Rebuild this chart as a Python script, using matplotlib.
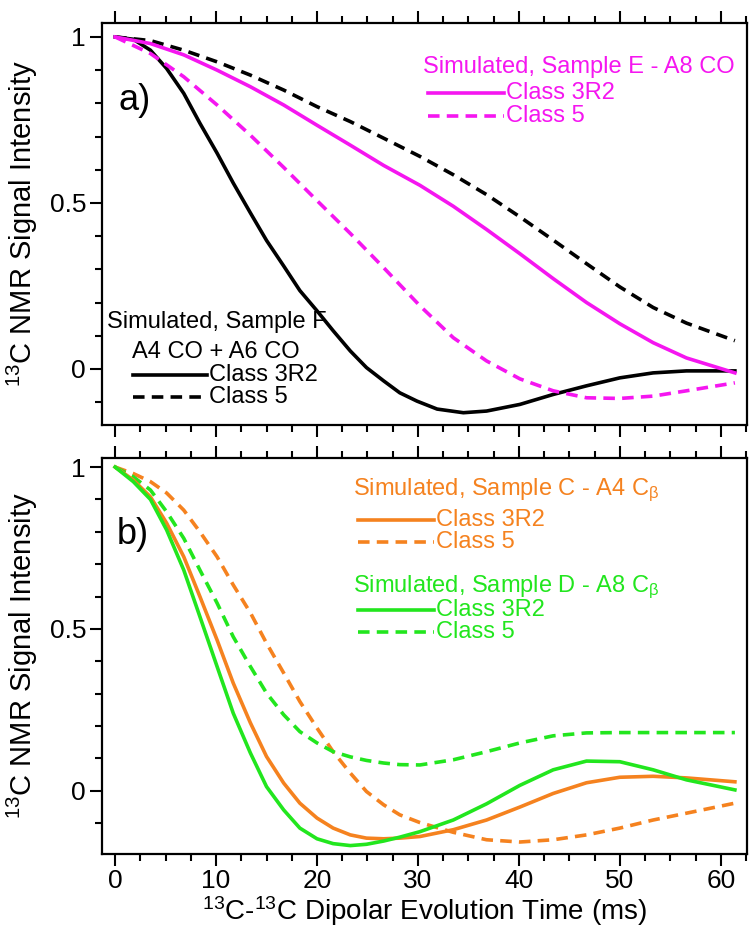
import matplotlib
matplotlib.use("Agg")
import matplotlib.pyplot as plt
from matplotlib import font_manager
from matplotlib.lines import Line2D
from matplotlib.ticker import MultipleLocator

# --- fuente: Arial Narrow si existe (Liberation Sans Narrow) ---
names = {f.name for f in font_manager.fontManager.ttflist}
FONT = 'Liberation Sans Narrow' if 'Liberation Sans Narrow' in names else 'Liberation Sans'
plt.rcParams['font.family'] = [FONT, 'DejaVu Sans']
plt.rcParams['mathtext.fontset'] = 'custom'
plt.rcParams['mathtext.rm'] = FONT
plt.rcParams['mathtext.it'] = FONT
plt.rcParams['mathtext.default'] = 'regular'

MAGENTA = '#F516F0'
ORANGE = '#F5821F'
GREEN = '#22E61E'

# --- panel a) ---
t_fine = [0, 1.8, 3.5, 5.1, 6.8, 8.4, 10.1, 11.7, 13.4, 15.0, 16.7, 18.3, 20.0, 21.6,
          23.3, 24.9, 26.6, 28.2, 29.9, 31.9, 34.5, 36.8, 40.1, 43.4, 46.7, 50.0,
          53.3, 56.6, 61.4]
f_3r2 = [1.0, 0.993, 0.96, 0.905, 0.83, 0.74, 0.65, 0.56, 0.47, 0.387, 0.31, 0.236,
         0.175, 0.115, 0.054, 0.004, -0.036, -0.072, -0.097, -0.121, -0.132, -0.127,
         -0.107, -0.077, -0.051, -0.027, -0.012, -0.006, -0.006]

t_a = [0, 3.5, 6.8, 10.1, 13.4, 16.7, 20.0, 23.3, 26.6, 30.2, 33.5, 36.8, 40.1,
       43.4, 46.7, 50.0, 53.3, 56.6, 61.4]
f_c5 = [1.0, 0.989, 0.96, 0.925, 0.885, 0.84, 0.79, 0.745, 0.695, 0.64, 0.585, 0.525,
        0.458, 0.388, 0.317, 0.247, 0.185, 0.138, 0.085]
e_3r2 = [1.0, 0.98, 0.946, 0.90, 0.85, 0.795, 0.734, 0.674, 0.613, 0.553, 0.49, 0.42,
         0.347, 0.272, 0.2, 0.136, 0.079, 0.033, -0.012]
e_c5 = [1.0, 0.95, 0.88, 0.795, 0.704, 0.607, 0.507, 0.408, 0.305, 0.19, 0.094,
        0.024, -0.03, -0.066, -0.087, -0.089, -0.082, -0.066, -0.042]

# --- panel b) ---
t_b = [0, 1.8, 3.5, 5.1, 6.8, 8.4, 10.1, 11.7, 13.4, 15.0, 16.7, 18.3, 20.0, 21.6,
       23.3, 24.9, 26.6, 28.2, 30.2, 33.5, 36.8, 40.1, 43.4, 46.7, 50.0, 53.3, 56.6, 61.4]
c_3r2 = [1.0, 0.96, 0.908, 0.827, 0.723, 0.60, 0.466, 0.333, 0.21, 0.106, 0.024,
         -0.038, -0.084, -0.115, -0.136, -0.146, -0.148, -0.146, -0.141, -0.12, -0.09,
         -0.05, -0.008, 0.025, 0.042, 0.045, 0.04, 0.028]
c_c5 = [1.0, 0.98, 0.955, 0.92, 0.867, 0.80, 0.723, 0.636, 0.55, 0.456, 0.364, 0.276,
        0.194, 0.121, 0.055, -0.002, -0.043, -0.074, -0.098, -0.128, -0.151, -0.158,
        -0.151, -0.136, -0.115, -0.09, -0.069, -0.038]
d_3r2 = [1.0, 0.955, 0.90, 0.806, 0.682, 0.538, 0.384, 0.24, 0.117, 0.013, -0.059,
         -0.115, -0.148, -0.163, -0.169, -0.165, -0.155, -0.143, -0.126, -0.09, -0.04,
         0.017, 0.065, 0.092, 0.09, 0.065, 0.034, 0.003]
d_c5 = [1.0, 0.97, 0.929, 0.862, 0.78, 0.682, 0.58, 0.476, 0.384, 0.302, 0.235, 0.183,
        0.148, 0.121, 0.105, 0.094, 0.086, 0.081, 0.08, 0.096, 0.121, 0.148, 0.17,
        0.179, 0.18, 0.18, 0.18, 0.18]

W, H = 749, 931
LW = 2.6
DASH = (3.2, 2.0)
YLABEL = '$^{13}$C NMR Signal Intensity'
FS_TICK = 19
FS_LEG = 17

fig = plt.figure(figsize=(W / 100, H / 100), dpi=100)


def px_axes(left, top, right, bottom):
    return fig.add_axes([left / W, 1 - bottom / H, (right - left) / W, (bottom - top) / H])


def style_axes(ax, ylim, show_xlabels):
    ax.set_xlim(-1.3, 62.6)
    ax.set_ylim(*ylim)
    ax.xaxis.set_major_locator(MultipleLocator(10))
    ax.xaxis.set_minor_locator(MultipleLocator(2.5))
    ax.yaxis.set_major_locator(MultipleLocator(0.5))
    ax.yaxis.set_minor_locator(MultipleLocator(0.1))
    ax.yaxis.set_major_formatter(plt.FuncFormatter(lambda v, p: '%g' % v))
    ax.tick_params(which='both', direction='out', top=True, bottom=True, left=True,
                   right=False, width=1.5, labelsize=FS_TICK, pad=3)
    ax.tick_params(which='major', length=8.5)
    ax.tick_params(which='minor', length=5)
    ax.tick_params(axis='x', labelbottom=show_xlabels, labeltop=False, pad=2)
    for s in ax.spines.values():
        s.set_linewidth(1.6)
    ax.set_ylabel(YLABEL, fontsize=21, labelpad=7)


def legend_line(x0, x1, y, color, dashed):
    ln = Line2D([x0 / W, x1 / W], [1 - y / H, 1 - y / H], transform=fig.transFigure,
                color=color, lw=LW)
    if dashed:
        ln.set_dashes(DASH)
    fig.add_artist(ln)


def legend_text(x, y, s, color):
    fig.text(x / W, 1 - y / H, s, color=color, fontsize=FS_LEG, ha='left', va='center')


# panel a)
ax1 = px_axes(102, 23, 747, 425)
ax1.plot(t_fine, f_3r2, color='black', lw=LW)
ax1.plot(t_a, f_c5, color='black', lw=LW, dashes=DASH)
ax1.plot(t_a, e_3r2, color=MAGENTA, lw=LW)
ax1.plot(t_a, e_c5, color=MAGENTA, lw=LW, dashes=DASH)
style_axes(ax1, (-0.169, 1.042), False)
fig.text(118 / W, 1 - 100 / H, 'a)', fontsize=26, ha='left', va='center')

legend_text(423, 67, 'Simulated, Sample E - A8 CO', MAGENTA)
legend_line(428, 504, 93, MAGENTA, False)
legend_text(506, 93, 'Class 3R2', MAGENTA)
legend_line(428, 504, 116, MAGENTA, True)
legend_text(506, 116, 'Class 5', MAGENTA)

legend_text(107, 322, 'Simulated, Sample F', 'black')
legend_text(132, 352, 'A4 CO + A6 CO', 'black')
legend_line(133, 207, 375, 'black', False)
legend_text(209, 375, 'Class 3R2', 'black')
legend_line(133, 207, 397, 'black', True)
legend_text(209, 397, 'Class 5', 'black')

# panel b)
ax2 = px_axes(102, 458, 747, 854)
ax2.plot(t_b, c_c5, color=ORANGE, lw=LW, dashes=DASH)
ax2.plot(t_b, d_c5, color=GREEN, lw=LW, dashes=DASH)
ax2.plot(t_b, c_3r2, color=ORANGE, lw=LW)
ax2.plot(t_b, d_3r2, color=GREEN, lw=LW)
style_axes(ax2, (-0.195, 1.028), True)
ax2.set_xlabel('$^{13}$C-$^{13}$C Dipolar Evolution Time (ms)', fontsize=20, labelpad=1)
fig.text(117 / W, 1 - 535 / H, 'b)', fontsize=26, ha='left', va='center')

legend_text(353, 490, 'Simulated, Sample C - A4 C$_{β}$', ORANGE)
legend_line(358, 434, 520, ORANGE, False)
legend_text(436, 520, 'Class 3R2', ORANGE)
legend_line(358, 434, 542, ORANGE, True)
legend_text(436, 542, 'Class 5', ORANGE)

legend_text(353, 587, 'Simulated, Sample D - A8 C$_{β}$', GREEN)
legend_line(358, 434, 610, GREEN, False)
legend_text(436, 610, 'Class 3R2', GREEN)
legend_line(358, 434, 632, GREEN, True)
legend_text(436, 632, 'Class 5', GREEN)

fig.savefig('out.png', dpi=100)
